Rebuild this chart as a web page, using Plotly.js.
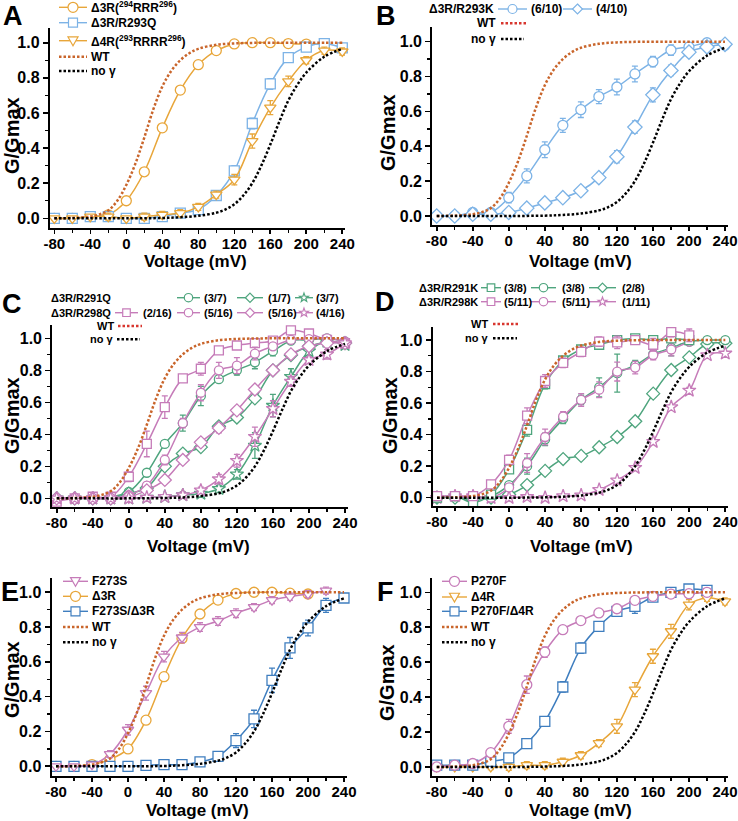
<!DOCTYPE html>
<html><head><meta charset="utf-8">
<script src="https://cdn.plot.ly/plotly-3.0.1.min.js"></script>
<style>html,body{margin:0;padding:0;background:#fff}</style>
</head><body><div id="chart" style="width:738px;height:821px"></div>
<script>
// ---------- data ----------
const V = [-80,-60,-40,-20,0,20,40,60,80,100,120,140,160,180,200,220,240];
const XTICKS = [-80,-40,0,40,80,120,160,200,240];
const XTICKLABELS = ['-80','-40','0','40','80','120','160','200','240'];
const YTICKS = [0,0.2,0.4,0.6,0.8,1.0];
const YTICKLABELS = ['0.0','0.2','0.4','0.6','0.8','1.0'];
const XTITLE = 'Voltage (mV)';
const YTITLE = 'G/Gmax';

const WT_V = [-80,-60,-40,-30,-20,-10,0,10,20,30,40,50,60,70,80,100,120,140,160,180,200,220,240];
const WT_G = [0.0,0.002,0.01,0.022,0.045,0.1,0.19,0.31,0.46,0.62,0.75,0.84,0.9,0.94,0.965,0.988,0.996,0.999,1.0,1.0,1.0,1.0,1.0];
const NOG_V = [-80,-40,0,40,60,80,100,110,120,130,140,150,160,170,180,190,200,220,240];
const NOG_G = [0.0,0.0,0.0,0.002,0.006,0.014,0.032,0.05,0.08,0.13,0.2,0.3,0.42,0.55,0.67,0.76,0.83,0.92,0.965];

// Panel A
const A_d3R = [0.0,0.0,0.01,0.02,0.10,0.265,0.515,0.73,0.875,0.955,0.993,1.0,1.0,0.995,0.992,0.995,null];
const A_d3R_err = [0.01,0.01,0.01,0.01,0.02,0.02,0.02,0.02,0.015,0.02,0.015,0.01,0.015,0.01,0.01,0.01,null];
const A_R293Q = [0.0,0.0,0.01,0.01,0.0,0.0,0.01,0.03,0.05,0.13,0.27,0.54,0.765,0.915,0.975,0.995,0.97];
const A_R293Q_err = [0.015,0.01,0.015,0.02,0.01,0.01,0.02,0.02,0.015,0.02,0.03,0.03,0.03,0.025,0.02,0.015,0.02];
const A_d4R = [0.0,0.0,0.01,0.01,0.0,0.01,0.02,0.03,0.065,0.135,0.22,0.44,0.63,0.78,0.9,0.955,0.95];
const A_d4R_err = [0.01,0.01,0.01,0.02,0.01,0.02,0.02,0.02,0.02,0.02,0.03,0.04,0.04,0.03,0.02,0.02,0.02];

// Panel B
const B_c610 = [0.0,0.0,0.02,0.02,0.105,0.23,0.38,0.52,0.61,0.685,0.74,0.815,0.885,0.952,0.97,0.994,0.98];
const B_c610_err = [0.02,0.02,0.02,0.02,0.03,0.04,0.045,0.04,0.045,0.04,0.045,0.045,0.03,0.03,0.025,0.02,0.02];
const B_d410 = [0.0,0.0,0.01,0.01,0.02,0.045,0.075,0.105,0.145,0.22,0.34,0.51,0.695,0.835,0.94,0.97,0.985];
const B_d410_err = [0.02,0.02,0.02,0.015,0.02,0.02,0.02,0.02,0.02,0.02,0.035,0.035,0.04,0.03,0.02,0.02,0.02];

// Panel C
const C_291Q_circ = [0.0,0.0,0.0,0.01,0.04,0.16,0.34,0.47,0.64,0.745,0.80,0.85,0.92,0.985,0.99,1.0,0.98];
const C_291Q_circ_err = [0.01,0.01,0.01,0.01,0.01,0.015,0.02,0.05,0.06,0.02,0.03,0.04,0.03,0.02,0.02,0.01,0.01];
const C_291Q_diam = [0.0,0.0,0.0,0.0,0.03,0.065,0.20,0.28,0.32,0.45,0.505,0.625,0.80,0.895,0.95,0.975,0.97];
const C_291Q_diam_err = [0.01,0.01,0.01,0.01,0.01,0.01,0.015,0.015,0.015,0.02,0.02,0.02,0.015,0.015,0.015,0.01,0.01];
const C_291Q_star = [0.0,0.0,0.0,0.0,0.0,0.005,0.01,0.02,0.03,0.06,0.15,0.33,0.58,0.76,0.92,0.98,0.96];
const C_291Q_star_err = [0.01,0.01,0.01,0.01,0.01,0.01,0.01,0.02,0.02,0.02,0.03,0.08,0.07,0.05,0.03,0.02,0.02];
const C_298Q_sq = [-0.02,0.0,0.01,0.01,0.135,0.34,0.57,0.75,0.81,0.925,0.955,0.97,0.985,1.05,1.03,0.99,0.97];
const C_298Q_sq_err = [0.02,0.01,0.01,0.01,0.03,0.08,0.07,0.02,0.04,0.02,0.02,0.02,0.015,0.02,0.02,0.02,0.02];
const C_298Q_circ = [0.0,0.0,0.0,0.0,0.02,0.08,0.24,0.47,0.66,0.80,0.83,0.905,0.95,0.99,0.995,1.0,0.98];
const C_298Q_circ_err = [0.01,0.01,0.01,0.01,0.01,0.02,0.03,0.03,0.05,0.05,0.05,0.04,0.02,0.02,0.015,0.01,0.01];
const C_298Q_diam = [0.0,0.0,0.0,0.0,0.01,0.05,0.115,0.24,0.35,0.44,0.55,0.68,0.80,0.90,0.95,0.97,0.97];
const C_298Q_diam_err = [0.01,0.01,0.01,0.01,0.01,0.01,0.02,0.02,0.02,0.03,0.02,0.02,0.02,0.015,0.015,0.02,0.02];
const C_298Q_star = [0.0,0.0,0.0,0.0,0.0,0.005,0.01,0.02,0.05,0.12,0.235,0.385,0.56,0.73,0.865,0.90,0.97];
const C_298Q_star_err = [0.01,0.01,0.01,0.01,0.01,0.01,0.01,0.02,0.02,0.03,0.04,0.06,0.05,0.03,0.02,0.03,0.02];

// Panel D
const D_291K_sq = [0.0,0.01,-0.03,0.02,0.18,0.43,0.72,0.87,0.94,0.97,1.0,1.01,1.0,1.01,1.0,null,null];
const D_291K_sq_err = [0.01,0.01,0.02,0.01,0.02,0.04,0.03,0.02,0.02,0.02,0.02,0.02,0.02,0.02,0.02,null,null];
const D_298K_sq = [0.01,0.01,0.01,0.085,0.24,0.52,0.74,0.855,0.925,0.99,0.985,1.0,0.97,1.05,1.03,null,null];
const D_298K_sq_err = [0.01,0.01,0.01,0.02,0.03,0.05,0.04,0.03,0.03,0.03,0.04,0.02,0.04,0.03,0.04,null,null];
const D_291K_circ = [0.0,0.01,0.0,0.01,0.08,0.2,0.37,0.5,0.62,0.70,0.79,0.84,0.91,0.95,0.99,1.0,1.0];
const D_291K_circ_err = [0.01,0.01,0.01,0.01,0.01,0.05,0.04,0.03,0.03,0.06,0.12,0.03,0.02,0.05,0.02,0.01,0.01];
const D_298K_circ = [0.0,0.01,0.0,0.0,0.065,0.22,0.385,0.515,0.62,0.685,0.80,0.825,0.905,0.94,0.99,null,null];
const D_298K_circ_err = [0.01,0.01,0.01,0.01,0.02,0.06,0.05,0.03,0.04,0.05,0.06,0.04,0.03,0.04,0.02,null,null];
const D_291K_diam = [0.0,0.0,-0.01,0.0,0.02,0.08,0.17,0.245,0.265,0.32,0.385,0.485,0.66,0.81,0.89,0.975,0.98];
const D_291K_diam_err = [0.01,0.01,0.02,0.01,0.01,0.02,0.02,0.02,0.02,0.02,0.02,0.02,0.02,0.02,0.02,0.02,0.02];
const D_298K_star = [0.0,0.01,0.01,0.0,0.0,0.005,0.0,0.01,0.015,0.05,0.11,0.19,0.355,0.575,0.68,0.905,0.915];
const D_298K_star_err = [0.01,0.01,0.01,0.01,0.01,0.01,0.01,0.01,0.01,0.01,0.01,0.01,0.01,0.01,0.02,0.01,0.01];

// Panel E
const E_F273S = [0.0,0.0,0.01,0.07,0.21,0.42,0.63,0.74,0.80,0.835,0.88,0.915,0.955,0.975,0.99,1.01,null];
const E_F273S_err = [0.01,0.01,0.01,0.02,0.03,0.04,0.03,0.03,0.025,0.025,0.025,0.02,0.02,0.02,0.02,0.02,null];
const E_d3R = [0.0,0.0,0.01,0.04,0.10,0.265,0.515,0.735,0.875,0.955,0.993,1.0,1.0,0.995,0.99,null,null];
const E_d3R_err = [0.01,0.01,0.01,0.01,0.02,0.02,0.02,0.02,0.015,0.02,0.015,0.01,0.015,0.01,0.01,null,null];
const E_F273S_d3R = [0.0,0.0,0.0,0.0,0.0,0.005,0.01,0.01,0.025,0.057,0.148,0.272,0.494,0.68,0.795,0.925,0.967];
const E_F273S_d3R_err = [0.01,0.01,0.01,0.01,0.01,0.01,0.01,0.01,0.01,0.01,0.04,0.05,0.07,0.06,0.045,0.04,0.015];

// Panel F
const F_P270F = [0.0,0.01,0.02,0.082,0.233,0.471,0.658,0.786,0.838,0.882,0.906,0.954,0.977,0.99,0.992,1.0,null];
const F_P270F_err = [0.01,0.01,0.01,0.02,0.04,0.05,0.03,0.02,0.02,0.02,0.015,0.015,0.015,0.015,0.015,0.015,null];
const F_d4R = [0.0,0.0,0.0,0.0,0.0,0.01,0.01,0.03,0.067,0.137,0.233,0.443,0.634,0.777,0.929,0.968,0.948];
const F_d4R_err = [0.01,0.015,0.015,0.015,0.02,0.02,0.02,0.02,0.02,0.02,0.04,0.04,0.04,0.04,0.03,0.02,0.02];
const F_P270F_d4R = [0.01,0.01,0.01,0.032,0.052,0.134,0.261,0.458,0.681,0.805,0.891,0.92,0.973,1.0,1.019,1.011,null];
const F_P270F_d4R_err = [0.01,0.01,0.01,0.02,0.02,0.02,0.02,0.03,0.03,0.02,0.02,0.04,0.02,0.02,0.02,0.02,null];

// ---------- styles ----------
const ORANGE = '#E8A63A', LBLUE = '#7DB3E6', WTC = '#C9652B', WTRED = '#D8362E',
      GREEN = '#4FA57E', PINK = '#C67CB9', DBLUE = '#3F7EBF', BLACK = '#000000';
const W = 738, H = 821;
const X = p => p / W, Y = p => 1 - p / H;
const FONT = 'Arial, "Liberation Sans", sans-serif';

// plot-area boxes (px) and axis-title centres (px)
const panels = [
  {x:[49.8,345.0], y:[28.3,227.8], xt:[195,262], yt:[12,136]},
  {x:[432.2,727.7], y:[27.4,225.4], xt:[580,261], yt:[388,133]},
  {x:[52.2,347.7], y:[325.2,507.0], xt:[198,546], yt:[12,416]},
  {x:[432.5,728.0], y:[327.1,506.2], xt:[581,546], yt:[390,416]},
  {x:[51.5,346.7], y:[578.0,775.7], xt:[197,810], yt:[12,680]},
  {x:[432.2,727.7], y:[578.0,776.4], xt:[580,810], yt:[387,683]}
];

const traces = [];
function sid(i){ return i===1 ? '' : String(i); }
function series(i, y, err, color, symbol, size){
  traces.push({
    x: V, y: y, type:'scatter', mode:'lines+markers',
    xaxis:'x'+sid(i), yaxis:'y'+sid(i), cliponaxis:false,
    line:{color:color, width:1.5, shape:'spline', smoothing:1},
    marker:{symbol:symbol, size:size||10, color:'#ffffff', line:{color:color, width:1.3}},
    error_y:{type:'data', array:err, visible:true, color:color, thickness:1.3, width:3}
  });
}
function refCurves(i){
  traces.push({x:WT_V, y:WT_G, type:'scatter', mode:'lines', xaxis:'x'+sid(i), yaxis:'y'+sid(i),
    line:{color:WTC, width:2.5, dash:'2.5px,2px', shape:'spline', smoothing:1}});
  traces.push({x:NOG_V, y:NOG_G, type:'scatter', mode:'lines', xaxis:'x'+sid(i), yaxis:'y'+sid(i),
    line:{color:BLACK, width:2.5, dash:'2.5px,2px', shape:'spline', smoothing:1}});
}

// A
series(1, A_d3R, A_d3R_err, ORANGE, 'circle');
series(1, A_R293Q, A_R293Q_err, LBLUE, 'square');
series(1, A_d4R, A_d4R_err, ORANGE, 'triangle-down');
refCurves(1);
// B
series(2, B_c610, B_c610_err, LBLUE, 'circle');
series(2, B_d410, B_d410_err, LBLUE, 'diamond', 11);
refCurves(2);
// C
series(3, C_291Q_circ, C_291Q_circ_err, GREEN, 'circle', 9);
series(3, C_291Q_diam, C_291Q_diam_err, GREEN, 'diamond', 10);
series(3, C_291Q_star, C_291Q_star_err, GREEN, 'star', 10);
series(3, C_298Q_sq, C_298Q_sq_err, PINK, 'square', 9);
series(3, C_298Q_circ, C_298Q_circ_err, PINK, 'circle', 9);
series(3, C_298Q_diam, C_298Q_diam_err, PINK, 'diamond', 10);
series(3, C_298Q_star, C_298Q_star_err, PINK, 'star', 10);
refCurves(3);
// D
series(4, D_291K_diam, D_291K_diam_err, GREEN, 'diamond', 10);
series(4, D_298K_star, D_298K_star_err, PINK, 'star', 10);
series(4, D_291K_circ, D_291K_circ_err, GREEN, 'circle', 9);
series(4, D_298K_circ, D_298K_circ_err, PINK, 'circle', 9);
series(4, D_291K_sq, D_291K_sq_err, GREEN, 'square', 9);
series(4, D_298K_sq, D_298K_sq_err, PINK, 'square', 9);
refCurves(4);
// E
series(5, E_d3R, E_d3R_err, ORANGE, 'circle');
series(5, E_F273S_d3R, E_F273S_d3R_err, DBLUE, 'square');
series(5, E_F273S, E_F273S_err, PINK, 'triangle-down');
refCurves(5);
// F
series(6, F_d4R, F_d4R_err, ORANGE, 'triangle-down');
series(6, F_P270F_d4R, F_P270F_d4R_err, DBLUE, 'square');
series(6, F_P270F, F_P270F_err, PINK, 'circle');
refCurves(6);

// ---------- layout ----------
const layout = {
  width: W, height: H, margin:{l:0,r:0,t:0,b:0},
  paper_bgcolor:'#ffffff', plot_bgcolor:'rgba(0,0,0,0)', showlegend:false,
  font:{family:FONT, color:'#000'},
  shapes:[], annotations:[]
};
function textAnno(x, y, text, size, opts){
  layout.annotations.push(Object.assign({xref:'paper', yref:'paper', x:X(x), y:Y(y), text:text,
    showarrow:false, xanchor:'center', yanchor:'middle', borderpad:0,
    font:{family:FONT, size:size, weight:'bold', color:'#000'}}, opts||{}));
}
panels.forEach((p, k) => {
  const i = k + 1;
  layout['xaxis'+sid(i)] = {
    domain:[X(p.x[0]), X(p.x[1])], anchor:'y'+sid(i), range:[-85,243],
    tickmode:'array', tickvals:XTICKS, ticktext:XTICKLABELS, ticklabeloverflow:'allow',
    ticklabelstandoff:-3,
    ticks:'outside', ticklen:4, tickwidth:1.6, tickcolor:'#000',
    minor:{tickmode:'linear', tick0:-80, dtick:20, ticks:'outside', ticklen:3, tickwidth:1.4, tickcolor:'#000'},
    showline:true, linewidth:2, linecolor:'#000', showgrid:false, zeroline:false,
    tickfont:{family:FONT, size:15, weight:'bold', color:'#000'}
  };
  layout['yaxis'+sid(i)] = {
    domain:[Y(p.y[1]), Y(p.y[0])], anchor:'x'+sid(i), range:[-0.054,1.082],
    tickmode:'array', tickvals:YTICKS, ticktext:YTICKLABELS, ticklabeloverflow:'allow',
    ticks:'outside', ticklen:5, tickwidth:1.6, tickcolor:'#000',
    minor:{tickmode:'linear', tick0:0, dtick:0.1, ticks:'outside', ticklen:3, tickwidth:1.4, tickcolor:'#000'},
    showline:true, linewidth:2, linecolor:'#000', showgrid:false, zeroline:false,
    tickfont:{family:FONT, size:16, weight:'bold', color:'#000'}
  };
  textAnno(p.xt[0], p.xt[1], XTITLE, 17);
  textAnno(p.yt[0], p.yt[1], YTITLE, 20, {textangle:-90});
});

// ---------- legend drawing helpers ----------
function P(x, y){ return X(x).toFixed(5)+','+Y(y).toFixed(5); }
function markerShape(sym, cx, cy, r, color){
  const base = {xref:'paper', yref:'paper', fillcolor:'#ffffff', line:{color:color, width:1.2}, layer:'above'};
  if (sym === 'circle') {
    layout.shapes.push(Object.assign({type:'circle', x0:X(cx-r), x1:X(cx+r), y0:Y(cy+r), y1:Y(cy-r)}, base));
  } else if (sym === 'square') {
    const s = r*0.9;
    layout.shapes.push(Object.assign({type:'rect', x0:X(cx-s), x1:X(cx+s), y0:Y(cy+s), y1:Y(cy-s)}, base));
  } else {
    let pts = [];
    if (sym === 'triangle-down') pts = [[cx-r, cy-r*0.75],[cx+r, cy-r*0.75],[cx, cy+r]];
    else if (sym === 'diamond') pts = [[cx, cy-r*1.1],[cx+r*1.1, cy],[cx, cy+r*1.1],[cx-r*1.1, cy]];
    else if (sym === 'star') {
      for (let j=0;j<10;j++){
        const a = -Math.PI/2 + j*Math.PI/5, rr = (j%2===0) ? r*1.1 : r*0.45;
        pts.push([cx + rr*Math.cos(a), cy + rr*Math.sin(a)]);
      }
    }
    const path = 'M' + pts.map(q => P(q[0], q[1])).join(' L') + ' Z';
    layout.shapes.push(Object.assign({type:'path', path:path}, base));
  }
}
function key(x0, x1, y, color, sym, r){
  if (sym === 'dot') {
    layout.shapes.push({type:'line', xref:'paper', yref:'paper', x0:X(x0), x1:X(x1), y0:Y(y), y1:Y(y),
      line:{color:color, width:2.5, dash:'2.5px,2px'}, layer:'above'});
  } else {
    layout.shapes.push({type:'line', xref:'paper', yref:'paper', x0:X(x0), x1:X(x1), y0:Y(y), y1:Y(y),
      line:{color:color, width:1.4}, layer:'above'});
    markerShape(sym, (x0+x1)/2, y, r || 4.5, color);
  }
}
function label(x, y, text, size, anchor){
  textAnno(x, y, text, size, {xanchor:anchor||'left'});
}
function letter(x, y, t){
  textAnno(x, y, t, 27, {xanchor:'left', yanchor:'top'});
}

// Panel A legend
[[7.3, ORANGE, 'circle', 'Δ3R(<sup>294</sup>RRR<sup>296</sup>)'],
 [22.7, LBLUE, 'square', 'Δ3R/R293Q'],
 [40.7, ORANGE, 'triangle-down', 'Δ4R(<sup>293</sup>RRRR<sup>296</sup>)'],
 [56.7, WTC, 'dot', 'WT'],
 [71.0, BLACK, 'dot', 'no γ']].forEach(r => { key(59, 87, r[0], r[1], r[2], 5); label(90, r[0], r[3], 12); });

// Panel B legend
label(495, 9, 'Δ3R/R293K', 12, 'right');
key(498, 527, 9, LBLUE, 'circle', 4.5); label(530, 9, '(6/10)', 12);
key(563, 592, 9, LBLUE, 'diamond', 4.5); label(595, 9, '(4/10)', 12);
label(497, 23.3, 'WT', 12, 'right'); key(501, 526, 23.3, WTRED, 'dot');
label(497, 39, 'no γ', 12, 'right'); key(501, 524, 39, BLACK, 'dot');

// Panel C legend
label(112, 297.7, 'Δ3R/R291Q', 11, 'right');
key(177, 200, 297.7, GREEN, 'circle', 4.2); label(203, 297.7, '(3/7)', 11);
key(237, 263, 297.7, GREEN, 'diamond', 4.2); label(267, 297.7, '(1/7)', 11);
key(295, 313, 297.7, GREEN, 'star', 4.2); label(315, 297.7, '(3/7)', 11);
label(112, 312.7, 'Δ3R/R298Q', 11, 'right');
key(115, 138, 312.7, PINK, 'square', 4.2); label(142, 312.7, '(2/16)', 11);
key(177, 200, 312.7, PINK, 'circle', 4.2); label(203, 312.7, '(5/16)', 11);
key(237, 263, 312.7, PINK, 'diamond', 4.2); label(267, 312.7, '(5/16)', 11);
key(295, 313, 312.7, PINK, 'star', 4.2); label(315, 312.7, '(4/16)', 11);
label(115, 326, 'WT', 11, 'right'); key(118, 142, 326, WTRED, 'dot');
label(114, 339.3, 'no γ', 11, 'right'); key(117, 140, 339.3, BLACK, 'dot');

// Panel D legend
label(479, 287.7, 'Δ3R/R291K', 11, 'right');
key(481, 501, 287.7, GREEN, 'square', 4.2); label(503, 287.7, '(3/8)', 11);
key(531, 556, 287.7, GREEN, 'circle', 4.2); label(561, 287.7, '(3/8)', 11);
key(589, 616, 287.7, GREEN, 'diamond', 4.2); label(621, 287.7, '(2/8)', 11);
label(479, 301.7, 'Δ3R/R298K', 11, 'right');
key(481, 501, 301.7, PINK, 'square', 4.2); label(503, 301.7, '(5/11)', 11);
key(531, 556, 301.7, PINK, 'circle', 4.2); label(561, 301.7, '(5/11)', 11);
key(589, 616, 301.7, PINK, 'star', 4.2); label(621, 301.7, '(1/11)', 11);
label(489, 324, 'WT', 11, 'right'); key(493, 519, 324, WTRED, 'dot');
label(489, 338.3, 'no γ', 11, 'right'); key(493, 517, 338.3, BLACK, 'dot');

// Panel E legend
[[581.3, PINK, 'triangle-down', 'F273S'],
 [596.3, ORANGE, 'circle', 'Δ3R'],
 [611.3, DBLUE, 'square', 'F273S/Δ3R'],
 [627.0, WTC, 'dot', 'WT'],
 [642.3, BLACK, 'dot', 'no γ']].forEach(r => { key(63, 88, r[0], r[1], r[2], 5); label(91, r[0], r[3], 12); });

// Panel F legend
[[581.3, PINK, 'circle', 'P270F'],
 [597.0, ORANGE, 'triangle-down', 'Δ4R'],
 [611.3, DBLUE, 'square', 'P270F/Δ4R'],
 [627.0, WTC, 'dot', 'WT'],
 [642.3, BLACK, 'dot', 'no γ']].forEach(r => { key(442, 467, r[0], r[1], r[2], 5); label(470, r[0], r[3], 12); });

// panel letters
letter(2, 0, 'A'); letter(375, 0, 'B'); letter(1, 288, 'C');
letter(374, 286, 'D'); letter(0, 576, 'E'); letter(376, 576, 'F');

Plotly.newPlot('chart', traces, layout, {displayModeBar:false, staticPlot:true});
</script>
</body></html>
